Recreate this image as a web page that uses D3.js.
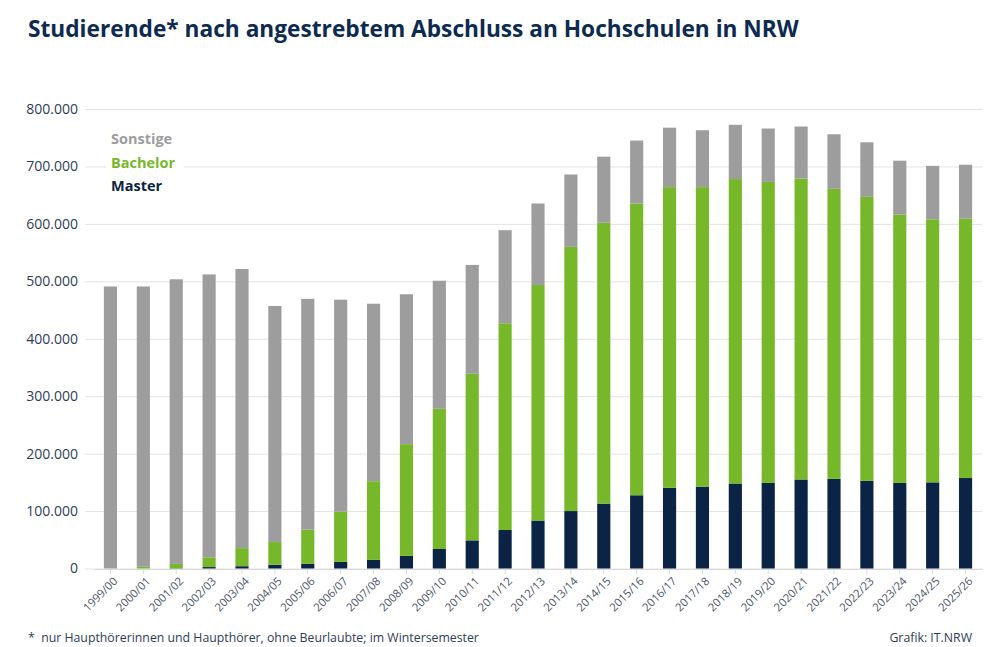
<!DOCTYPE html>
<html>
<head>
<meta charset="utf-8">
<script src="https://cdn.jsdelivr.net/npm/d3@7"></script>
<style>
  body { margin: 0; background: #fff; }
  svg { font-family: "Open Sans", sans-serif; }
</style>
</head>
<body>
<div id="chart"></div>
<script>
// Wintersemester
var semesters = ["1999/00", "2000/01", "2001/02", "2002/03", "2003/04", "2004/05", "2005/06",
    "2006/07", "2007/08", "2008/09", "2009/10", "2010/11", "2011/12", "2012/13", "2013/14",
    "2014/15", "2015/16", "2016/17", "2017/18", "2018/19", "2019/20", "2020/21", "2021/22",
    "2022/23", "2023/24", "2024/25", "2025/26"];

var master = [0, 0, 500, 2500, 4000, 6500, 8000, 11500, 15000, 22000, 34000, 49000, 67000,
    83500, 100000, 113000, 127500, 140500, 142500, 148000, 149000, 155000, 156000, 152500,
    149000, 150000, 157500];

var bachelor = [0, 3000, 7500, 17000, 31500, 39500, 59500, 87500, 137000, 194500, 244000,
    290000, 360000, 410000, 460000, 489000, 508000, 523500, 521500, 530000, 524000, 524000,
    505000, 494500, 467000, 458000, 452000];

var sonstige = [491000, 488000, 495500, 492500, 486000, 411000, 402000, 369000, 309000,
    261000, 223000, 189500, 162000, 142000, 126000, 115000, 109500, 103500, 99000, 94500,
    93000, 90500, 95000, 95000, 94000, 93000, 93500];

var yTicks = [0, 100000, 200000, 300000, 400000, 500000, 600000, 700000, 800000];

var width = 999, height = 647;
var margin = {top: 109, right: 17, bottom: 78, left: 94};

var series = [
    {key: "master", name: "Master", color: "#0b2446", values: master},
    {key: "bachelor", name: "Bachelor", color: "#77b82a", values: bachelor},
    {key: "sonstige", name: "Sonstige", color: "#9d9d9d", values: sonstige}
];

var table = semesters.map(function(s, i) {
    var row = {semester: s};
    series.forEach(function(d) { row[d.key] = d.values[i]; });
    return row;
});

var stacked = d3.stack().keys(series.map(function(d) { return d.key; }))(table);

var svg = d3.select("#chart")
    .append("svg")
    .attr("width", width)
    .attr("height", height);

var x = d3.scaleBand()
    .domain(semesters)
    .range([margin.left, width - margin.right])
    .paddingInner(0.6)
    .paddingOuter(0.3);

var y = d3.scaleLinear()
    .domain([0, 800000])
    .range([height - margin.bottom - 0.5, margin.top]);

var fmt = function(v) { return d3.format(",")(v).replace(/,/g, "."); };

// title
svg.append("text")
    .attr("x", 28)
    .attr("y", 37)
    .attr("font-size", 22.7)
    .attr("font-weight", "bold")
    .attr("fill", "#0d2a50")
    .text("Studierende* nach angestrebtem Abschluss an Hochschulen in NRW");

// grid + y labels
var yAxis = svg.append("g")
    .attr("transform", "translate(85,0)")
    .call(d3.axisLeft(y).tickValues(yTicks).tickSize(-(width - 17 - 85)).tickFormat(fmt));
yAxis.select(".domain").remove();
yAxis.selectAll(".tick line").attr("stroke", "#e3e3e3");
yAxis.selectAll(".tick text")
    .attr("x", -7)
    .attr("font-size", 14)
    .attr("font-family", "Open Sans, sans-serif")
    .attr("fill", "#2e3d57");

// bars
svg.append("g").selectAll("g")
    .data(stacked)
    .enter()
    .append("g")
    .attr("fill", function(d, i) { return series[i].color; })
    .selectAll("rect")
    .data(function(d) { return d; })
    .enter()
    .append("rect")
    .attr("x", function(d) { return x(d.data.semester); })
    .attr("width", x.bandwidth())
    .attr("y", function(d) { return y(d[1]); })
    .attr("height", function(d) { return Math.max(0, y(d[0]) - y(d[1])); });

// x axis
var xAxis = svg.append("g")
    .attr("transform", "translate(0," + (height - margin.bottom) + ")")
    .call(d3.axisBottom(x).tickSize(5).tickSizeOuter(0));
xAxis.select(".domain").attr("stroke", "#d9d9d9");
xAxis.selectAll(".tick line").attr("stroke", "#d9d9d9");
xAxis.selectAll(".tick text")
    .attr("font-size", 11.3)
    .attr("font-family", "Open Sans, sans-serif")
    .attr("fill", "#4a5568")
    .attr("text-anchor", "end")
    .attr("transform", "translate(5,10) rotate(-45)")
    .attr("dy", "0.35em")
    .attr("y", 0)
    .attr("x", 0);

// legend
var legend = [series[2], series[1], series[0]];
svg.append("rect")
    .attr("x", 106)
    .attr("y", 127)
    .attr("width", 78)
    .attr("height", 70)
    .attr("fill", "#fff");
svg.append("g").selectAll("text")
    .data(legend)
    .enter()
    .append("text")
    .attr("x", 111)
    .attr("y", function(d, i) { return 144 + i * 23.7; })
    .attr("font-size", 14.5)
    .attr("font-weight", "bold")
    .attr("fill", function(d) { return d.color; })
    .text(function(d) { return d.name; });

// footer
svg.append("text")
    .attr("x", 28)
    .attr("y", 642)
    .attr("font-size", 12.3)
    .attr("fill", "#2e3d57")
    .attr("xml:space", "preserve")
    .text("*  nur Haupthörerinnen und Haupthörer, ohne Beurlaubte; im Wintersemester");

svg.append("text")
    .attr("x", 972)
    .attr("y", 642)
    .attr("text-anchor", "end")
    .attr("font-size", 12.3)
    .attr("fill", "#2e3d57")
    .text("Grafik: IT.NRW");
</script>
</body>
</html>
